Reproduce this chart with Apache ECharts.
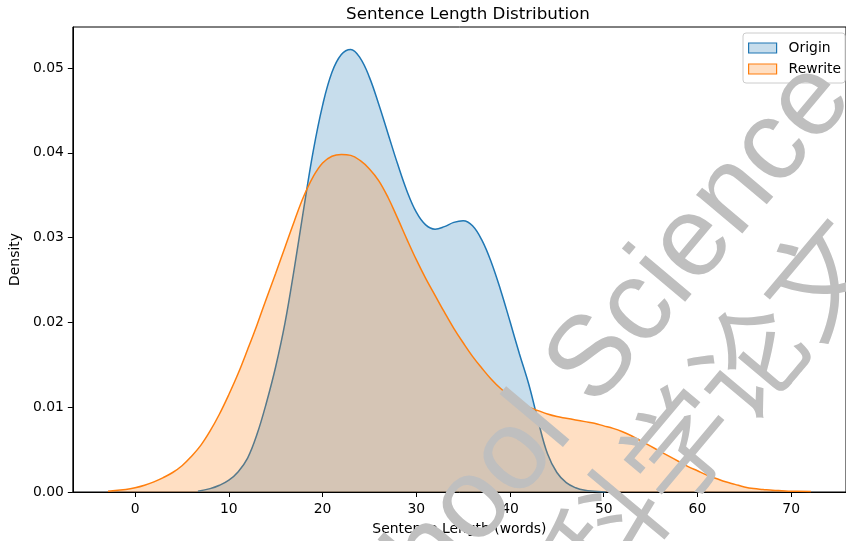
<!DOCTYPE html>
<html>
<head>
<meta charset="utf-8">
<style>
  html, body { margin: 0; padding: 0; background: #fff; }
  #chart { width: 846px; height: 541px; }
</style>
<script src="https://cdn.jsdelivr.net/npm/echarts@6/dist/echarts.min.js"></script>
</head>
<body>
<div id="chart"></div>
<script>
// Kernel density estimates of sentence length (words), sampled along x
const originX = [6.7, 8, 9, 10, 11, 12, 13, 14, 15, 16, 17, 18, 19, 20, 21, 22, 23, 24, 25, 26, 27, 28, 29, 30,
  31, 32, 33, 34, 35, 36, 37, 38, 39, 40, 41, 42, 43, 44, 45, 46, 47, 48, 49, 50.2];
const originDensity = [0.0001, 0.0004, 0.0008, 0.0014, 0.0024, 0.0040, 0.0068, 0.0105, 0.0148, 0.0200, 0.0265,
  0.0335, 0.0402, 0.0456, 0.0495, 0.0516, 0.0522, 0.0512, 0.0489, 0.0457, 0.0422, 0.0387, 0.0355, 0.0330,
  0.0315, 0.0310, 0.0313, 0.0318, 0.0320, 0.0314, 0.0297, 0.0271, 0.0238, 0.0201, 0.0163, 0.0127, 0.0084,
  0.0045, 0.0023, 0.0011, 0.0005, 0.0002, 0.0001, 0.0000];

const rewriteX = [-2.9, -1, 0, 1, 2, 3, 4, 5, 6, 7, 8, 9, 10, 11, 12, 13, 14, 15, 16, 17, 18, 19, 20, 21, 22, 23,
  24, 25, 26, 27, 28, 29, 30, 31, 32, 33, 34, 35, 36, 37, 38, 39, 40, 41, 42, 43, 44, 45, 46, 47, 48, 49, 50,
  51, 52, 53, 54, 55, 56, 57, 58, 59, 60, 61, 62, 63, 64, 65, 66, 67, 68, 69, 70, 72.1];
const rewriteDensity = [0.0001, 0.0003, 0.0005, 0.0008, 0.0012, 0.0017, 0.0023, 0.0031, 0.0042, 0.0055, 0.0072,
  0.0092, 0.0115, 0.0140, 0.0168, 0.0197, 0.0228, 0.0258, 0.0289, 0.0320, 0.0349, 0.0372, 0.0388, 0.0396,
  0.0398, 0.0397, 0.0391, 0.0381, 0.0367, 0.0347, 0.0323, 0.0298, 0.0274, 0.0252, 0.0232, 0.0212, 0.0193,
  0.0176, 0.0160, 0.0146, 0.0133, 0.0122, 0.0113, 0.0106, 0.0100, 0.0096, 0.0092, 0.0089, 0.0087, 0.0085,
  0.0083, 0.0081, 0.0078, 0.0075, 0.0071, 0.0066, 0.0060, 0.0054, 0.0048, 0.0042, 0.0036, 0.0030, 0.0025,
  0.0020, 0.0016, 0.0012, 0.0009, 0.0006, 0.0004, 0.0003, 0.0002, 0.00015, 0.0001, 0.00005];

const seriesNames = ['Origin', 'Rewrite'];
const xTicks = [0, 10, 20, 30, 40, 50, 60, 70];
const yTicks = [0, 0.01, 0.02, 0.03, 0.04, 0.05];

const titleText = 'Sentence Length Distribution';
const xLabel = 'Sentence Length (words)';
const yLabel = 'Density';
const watermarkHead = 'School';
const watermarkTail = 'Science';
const watermarkHan = ['科', '学', '论', '文'];

const BLUE = '#1f77b4';
const ORANGE = '#ff7f0e';
const FONT = 'DejaVu Sans';

const pairs = (xs, ys) => xs.map((x, i) => [x, ys[i]]);

// Diagonal watermark, multiplied over the plot
const WM_SIZE = 114;
const HAN_SIZE = 110;
const ANGLE = 50 * Math.PI / 180;
const dir = [Math.cos(ANGLE), -Math.sin(ANGLE)];
const anchor = [570.6, 389.1];
const hanCenter = [678, 445];
const wmStyle = (text, font, align) => ({
  text, font, align,
  fill: 'rgb(191,191,191)',
  blend: 'multiply',
  verticalAlign: 'middle'
});
const watermark = [
  {
    type: 'text', x: anchor[0], y: anchor[1], rotation: ANGLE, z: 100, silent: true,
    style: wmStyle(watermarkTail, WM_SIZE + 'px "Liberation Sans"', 'left')
  },
  {
    type: 'text',
    x: anchor[0] - 0.278 * WM_SIZE * dir[0], y: anchor[1] - 0.278 * WM_SIZE * dir[1],
    rotation: ANGLE, z: 100, silent: true,
    style: wmStyle(watermarkHead, WM_SIZE + 'px "Liberation Sans"', 'right')
  }
];
watermarkHan.forEach((ch, i) => {
  const along = HAN_SIZE * (i - 1);
  watermark.push({
    type: 'text',
    x: hanCenter[0] + along * dir[0],
    y: hanCenter[1] + along * dir[1],
    rotation: ANGLE, z: 100, silent: true,
    style: wmStyle(ch, HAN_SIZE + 'px "Noto Sans CJK SC"', 'center')
  });
});

const chart = echarts.init(document.getElementById('chart'), null, { renderer: 'canvas' });
chart.setOption({
  animation: false,
  backgroundColor: '#ffffff',
  textStyle: { fontFamily: FONT },
  title: {
    text: titleText,
    left: 463, top: 1,
    textAlign: 'center',
    textStyle: { fontSize: 16.7, fontWeight: 'normal', color: '#000', fontFamily: FONT }
  },
  grid: {
    left: 71, top: 27, right: -10, bottom: 47,
    show: true, borderColor: '#000', borderWidth: 1, backgroundColor: 'transparent'
  },
  legend: {
    orient: 'vertical',
    left: 743, top: 33,
    itemWidth: 28, itemHeight: 10, itemGap: 7,
    padding: [8, 4, 7, 5],
    backgroundColor: 'rgba(255,255,255,0.8)',
    borderColor: '#cccccc', borderWidth: 1, borderRadius: 3,
    icon: 'rect',
    textStyle: { fontSize: 13.9, color: '#000', fontFamily: FONT, padding: [0, 0, 0, 7] },
    data: [
      { name: seriesNames[0], itemStyle: { color: 'rgba(31,119,180,0.25)', borderColor: BLUE, borderWidth: 1.2 } },
      { name: seriesNames[1], itemStyle: { color: 'rgba(255,127,14,0.25)', borderColor: ORANGE, borderWidth: 1.2 } }
    ],
    z: 50
  },
  xAxis: {
    type: 'value',
    min: -6.65, max: 75.85,
    name: xLabel,
    nameLocation: 'middle',
    nameGap: 30,
    nameTextStyle: { fontSize: 13.9, color: '#000', fontFamily: FONT },
    splitLine: { show: false },
    axisLine: { show: true, onZero: false, lineStyle: { color: '#000', width: 1 } },
    axisTick: { show: true, length: 5, inside: false, customValues: xTicks, lineStyle: { color: '#000', width: 1 } },
    axisLabel: { customValues: xTicks, margin: 10, fontSize: 13.9, color: '#000', fontFamily: FONT,
                 formatter: v => String(Math.round(v)) }
  },
  yAxis: {
    type: 'value',
    min: 0, max: 0.05484,
    name: yLabel,
    nameLocation: 'middle',
    nameGap: 47,
    nameRotate: 90,
    nameTextStyle: { fontSize: 13.9, color: '#000', fontFamily: FONT },
    splitLine: { show: false },
    axisLine: { show: true, onZero: false, lineStyle: { color: '#000', width: 1 } },
    axisTick: { show: true, length: 5, inside: false, customValues: yTicks, lineStyle: { color: '#000', width: 1 } },
    axisLabel: { customValues: yTicks, margin: 9, fontSize: 13.9, color: '#000', fontFamily: FONT,
                 formatter: v => v.toFixed(2) }
  },
  series: [
    {
      name: seriesNames[0],
      type: 'line',
      data: pairs(originX, originDensity),
      smooth: 0.4,
      showSymbol: false,
      symbol: 'none',
      lineStyle: { color: BLUE, width: 1.5 },
      itemStyle: { color: BLUE },
      areaStyle: { color: BLUE, opacity: 0.25, origin: 'start' },
      z: 2
    },
    {
      name: seriesNames[1],
      type: 'line',
      data: pairs(rewriteX, rewriteDensity),
      smooth: 0.4,
      showSymbol: false,
      symbol: 'none',
      lineStyle: { color: ORANGE, width: 1.5 },
      itemStyle: { color: ORANGE },
      areaStyle: { color: ORANGE, opacity: 0.25, origin: 'start' },
      z: 3
    }
  ],
  graphic: watermark
});
</script>
</body>
</html>
